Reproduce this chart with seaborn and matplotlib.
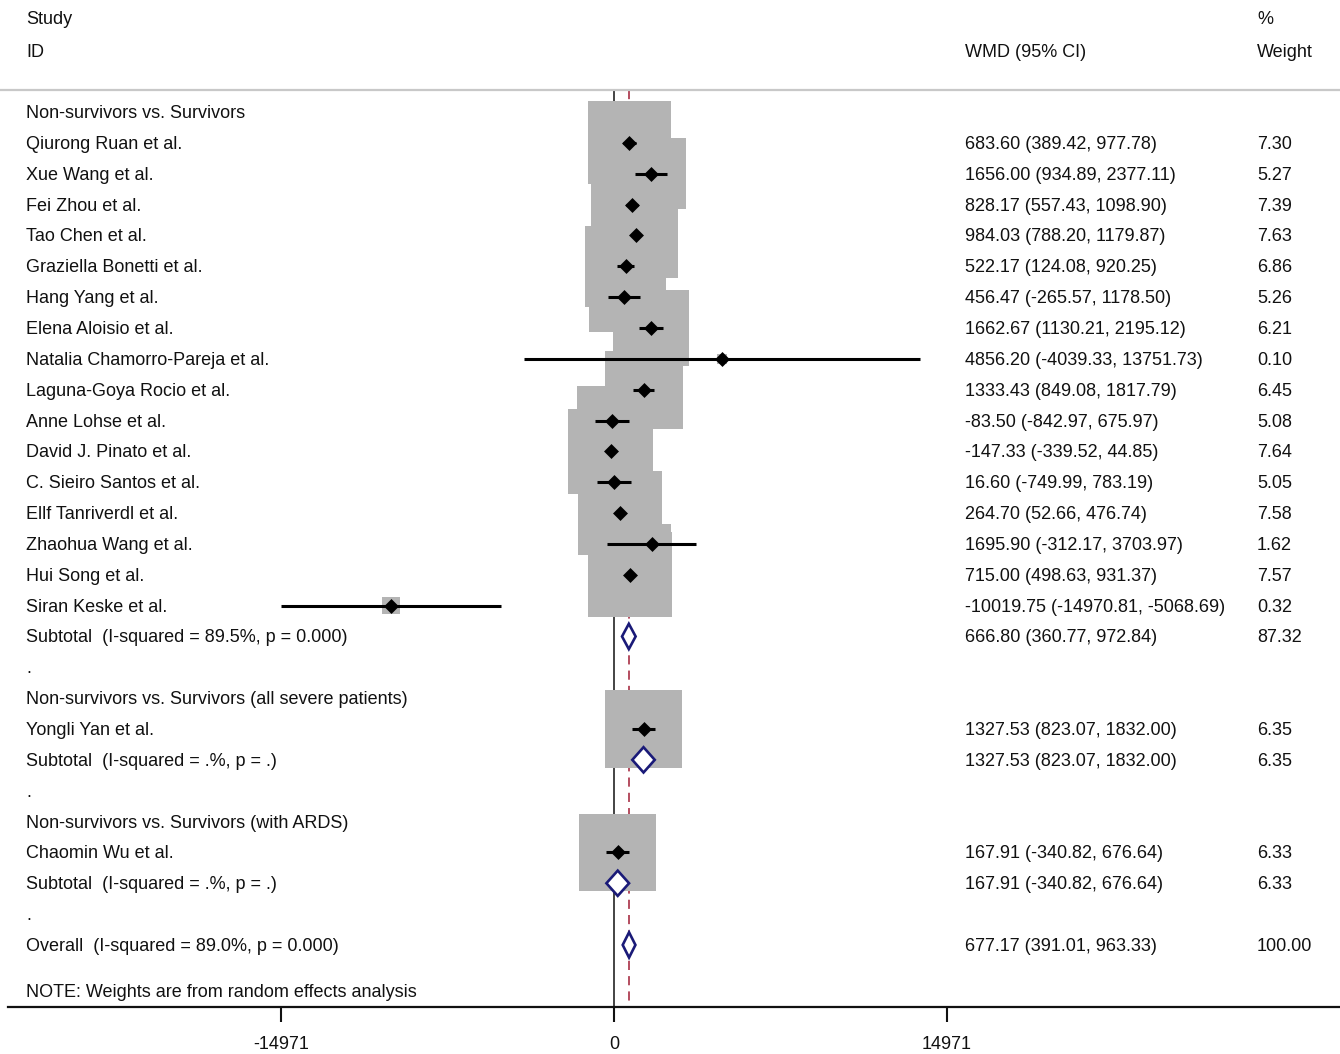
import numpy as np
import pandas as pd
import matplotlib
matplotlib.use("Agg")
import matplotlib.pyplot as plt
import matplotlib.transforms as mtransforms
from matplotlib.patches import Polygon
import seaborn as sns

# ---------------- data ----------------
group_titles = ["Non-survivors vs. Survivors",
                "Non-survivors vs. Survivors (all severe patients)",
                "Non-survivors vs. Survivors (with ARDS)"]

g1_names = ["Qiurong Ruan et al.", "Xue Wang et al.", "Fei Zhou et al.", "Tao Chen et al.",
            "Graziella Bonetti et al.", "Hang Yang et al.", "Elena Aloisio et al.",
            "Natalia Chamorro-Pareja et al.", "Laguna-Goya Rocio et al.", "Anne Lohse et al.",
            "David J. Pinato et al.", "C. Sieiro Santos et al.", "Ellf Tanriverdl et al.",
            "Zhaohua Wang et al.", "Hui Song et al.", "Siran Keske et al."]
g1_est = [683.60, 1656.00, 828.17, 984.03, 522.17, 456.47, 1662.67, 4856.20, 1333.43,
          -83.50, -147.33, 16.60, 264.70, 1695.90, 715.00, -10019.75]
g1_lo = [389.42, 934.89, 557.43, 788.20, 124.08, -265.57, 1130.21, -4039.33, 849.08,
         -842.97, -339.52, -749.99, 52.66, -312.17, 498.63, -14970.81]
g1_hi = [977.78, 2377.11, 1098.90, 1179.87, 920.25, 1178.50, 2195.12, 13751.73, 1817.79,
         675.97, 44.85, 783.19, 476.74, 3703.97, 931.37, -5068.69]
g1_w = [7.30, 5.27, 7.39, 7.63, 6.86, 5.26, 6.21, 0.10, 6.45, 5.08, 7.64, 5.05, 7.58,
        1.62, 7.57, 0.32]

g2_names = ["Yongli Yan et al."]
g2_est = [1327.53]
g2_lo = [823.07]
g2_hi = [1832.00]
g2_w = [6.35]

g3_names = ["Chaomin Wu et al."]
g3_est = [167.91]
g3_lo = [-340.82]
g3_hi = [676.64]
g3_w = [6.33]

subtotal_labels = ["Subtotal  (I-squared = 89.5%, p = 0.000)",
                   "Subtotal  (I-squared = .%, p = .)",
                   "Subtotal  (I-squared = .%, p = .)"]
subtotal_est = [666.80, 1327.53, 167.91]
subtotal_lo = [360.77, 823.07, -340.82]
subtotal_hi = [972.84, 1832.00, 676.64]
subtotal_w = [87.32, 6.35, 6.33]

overall_label = "Overall  (I-squared = 89.0%, p = 0.000)"
overall_est = 677.17
overall_lo = 391.01
overall_hi = 963.33
overall_w = 100.00

tick_values = [-14971, 0, 14971]
tick_labels = ["-14971", "0", "14971"]
note_text = "NOTE: Weights are from random effects analysis"

# ---------------- layout ----------------
W, H = 1340, 1054
fig = plt.figure(figsize=(W / 100, H / 100), dpi=100)
sns.set_theme(style="white")
plt.rcParams["font.family"] = ["Liberation Sans", "DejaVu Sans"]

k = 333.0 / 14971.0          # px per unit
x0px = 614.0                 # px of zero
row0px, rowh = 112.0, 30.85  # px of row 0, row height
axis_px = 1007.0
left_px = 8.0

ax = fig.add_axes([left_px / W, (H - axis_px) / H, (W - left_px) / W, axis_px / H])
ax.set_xlim((left_px - x0px) / k, (W - x0px) / k)
ax.set_ylim((axis_px - row0px) / rowh, (0 - row0px) / rowh)
for s in ["top", "left", "right"]:
    ax.spines[s].set_visible(False)
ax.spines["bottom"].set_linewidth(1.6)
ax.spines["bottom"].set_color("#111111")
ax.set_facecolor("white")
ax.set_yticks([])
ax.set_xticks(tick_values)
ax.set_xticklabels(tick_labels, fontsize=13, color="#111111")
ax.tick_params(axis="x", direction="out", length=11, width=1.5, pad=10, bottom=True, colors="#111111")
ax.grid(False)

# Build table of rows
r = 0
groups = [(g1_names, g1_est, g1_lo, g1_hi, g1_w),
          (g2_names, g2_est, g2_lo, g2_hi, g2_w),
          (g3_names, g3_est, g3_lo, g3_hi, g3_w)]
study_df = []
sub_rows = []
text_rows = []
for gi, (names, est, lo, hi, w) in enumerate(groups):
    text_rows.append((r, group_titles[gi], None, None))
    r += 1
    for n, e, l, h, ww in zip(names, est, lo, hi, w):
        study_df.append(dict(row=r, name=n, est=e, lo=l, hi=h, w=ww))
        text_rows.append((r, n, f"{e:.2f} ({l:.2f}, {h:.2f})", f"{ww:.2f}"))
        r += 1
    sub_rows.append(r)
    text_rows.append((r, subtotal_labels[gi],
                      f"{subtotal_est[gi]:.2f} ({subtotal_lo[gi]:.2f}, {subtotal_hi[gi]:.2f})",
                      f"{subtotal_w[gi]:.2f}"))
    r += 1
    text_rows.append((r, ".", None, None))
    r += 1
overall_row = r
text_rows.append((r, overall_label, f"{overall_est:.2f} ({overall_lo:.2f}, {overall_hi:.2f})",
                  f"{overall_w:.2f}"))
note_row = r + 1.5
df = pd.DataFrame(study_df)

top_row = (90 - row0px) / rowh
bottom_row = (axis_px - row0px) / rowh

# vertical reference lines
ax.vlines(0, top_row, bottom_row, color="#111111", lw=1.1, zorder=1)
ax.vlines(overall_est, top_row, bottom_row, color="#a01c34", lw=1.1,
          linestyles=(0, (6, 4)), zorder=1)

# weight boxes
wmin, wmax = df["w"].min(), df["w"].max()
scale = 490.0
sns.scatterplot(data=df, x="est", y="row", size="w", sizes=(scale * wmin, scale * wmax),
                size_norm=(wmin, wmax), marker="s", color="#b4b4b4", linewidth=0,
                legend=False, ax=ax, zorder=2)

# confidence intervals
ax.hlines(df["row"], df["lo"], df["hi"], color="black", lw=2.2, zorder=3)
# point estimates
sns.scatterplot(data=df, x="est", y="row", marker="D", s=58, color="black", linewidth=0,
                legend=False, ax=ax, zorder=4)

# diamonds
def diamond(y, e, l, h, half=0.41):
    p = Polygon([(l, y), (e, y - half), (h, y), (e, y + half)], closed=True,
                facecolor="white", edgecolor="#1a1a78", lw=1.9, zorder=5)
    ax.add_patch(p)

for sr, e, l, h in zip(sub_rows, subtotal_est, subtotal_lo, subtotal_hi):
    diamond(sr, e, l, h)
diamond(overall_row, overall_est, overall_lo, overall_hi)

ax.set_xlabel("")
ax.set_ylabel("")

# texts
tr = mtransforms.blended_transform_factory(fig.transFigure, ax.transData)
fs = 13
tc = "#111111"
dy = 0.05
xc1, xc2, xc3 = 26 / W, 965 / W, 1257 / W
for row, lab, ci, wt in text_rows:
    ax.text(xc1, row + dy, lab, transform=tr, fontsize=fs, color=tc, va="center", ha="left")
    if ci is not None:
        ax.text(xc2, row + dy, ci, transform=tr, fontsize=fs, color=tc, va="center", ha="left")
        ax.text(xc3, row + dy, wt, transform=tr, fontsize=fs, color=tc, va="center", ha="left")
ax.text(xc1, note_row + dy, note_text, transform=tr, fontsize=fs, color=tc, va="center", ha="left")

# headers
def prow(px):
    return (px - row0px) / rowh
ax.text(xc1, prow(20), "Study", transform=tr, fontsize=fs, color=tc, va="center", ha="left")
ax.text(xc1, prow(52), "ID", transform=tr, fontsize=fs, color=tc, va="center", ha="left")
ax.text(xc2, prow(52), "WMD (95% CI)", transform=tr, fontsize=fs, color=tc, va="center", ha="left")
ax.text(xc3, prow(20), "%", transform=tr, fontsize=fs, color=tc, va="center", ha="left")
ax.text(xc3, prow(52), "Weight", transform=tr, fontsize=fs, color=tc, va="center", ha="left")

# header separator line across full width
ax.plot([0, 1], [prow(90), prow(90)], transform=tr, color="#c8c8c8", lw=1.6, clip_on=False, zorder=1)

fig.savefig("out.png", dpi=100, facecolor="white")
